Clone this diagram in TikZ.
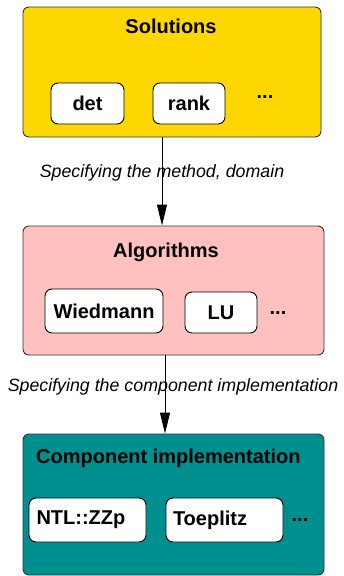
\documentclass[tikz,border=0pt]{standalone}
\usepackage{fontspec}
\setmainfont{Liberation Sans}
\usetikzlibrary{arrows.meta}
\definecolor{solcol}{HTML}{FFD700}
\definecolor{algcol}{HTML}{FFC0C0}
\definecolor{compcol}{HTML}{008F8F}
\definecolor{edgecol}{HTML}{333333}
\tikzset{
  outer/.style={draw=edgecol, line width=0.9pt, rounded corners=6pt, inner sep=0pt},
  inner/.style={draw=black, fill=white, line width=0.9pt, rounded corners=7pt, inner sep=0pt, font=\fontsize{20}{22}\selectfont\bfseries},
  ttl/.style={font=\fontsize{20}{22}\selectfont\bfseries, inner sep=0pt},
  lbl/.style={font=\fontsize{17.8}{20}\selectfont\itshape, inner sep=0pt},
  arr/.style={line width=0.9pt, -{Triangle[length=21pt,width=10pt]}},
}
\begin{document}
\begin{tikzpicture}[x=1pt,y=-1pt]
\useasboundingbox (0,0) rectangle (343,576);
% outer boxes
\node[outer, fill=solcol, minimum width=298pt, minimum height=130pt] (sol) at (172,72) {};
\node[outer, fill=algcol, minimum width=301pt, minimum height=129pt] (alg) at (173.5,290.5) {};
\node[outer, fill=compcol, minimum width=301pt, minimum height=141pt] (comp) at (173.5,504.5) {};
% titles
\node[ttl] (solt) at (171,26) {Solutions};
\node[ttl] (algt) at (166,252) {Algorithms};
\node[ttl, anchor=west] (compt) at (36,458) {Component implementation};
% inner boxes
\node[inner, minimum width=73pt, minimum height=41pt] (det) at (87.5,103.5) {det};
\node[inner, minimum width=72pt, minimum height=41pt] (rank) at (189,103.5) {rank};
\node[ttl] (sold) at (265,97) {...};
\node[inner, minimum width=118pt, minimum height=44pt] (wied) at (104,311) {Wiedmann};
\node[inner, minimum width=72pt, minimum height=41pt] (lu) at (221,312.5) {LU};
\node[ttl] (algd) at (278,313) {...};
\node[inner, minimum width=117pt, minimum height=44pt, text width=102pt, align=left] (ntl) at (87.5,520) {NTL::ZZp};
\node[inner, minimum width=117pt, minimum height=44pt, text width=103pt, align=left] (toe) at (224.5,520) {Toeplitz};
\node[ttl] (compd) at (300,520) {...};
% connectors
\coordinate (a1) at (162,0);
\coordinate (a2) at (165,0);
\draw[arr] (sol.south -| a1) -- (alg.north -| a1);
\draw[arr] (alg.south -| a2) -- (comp.north -| a2);
% labels
\node[lbl] (l1) at (162,173) {Specifying the method, domain};
\node[lbl] (l2) at (173,387) {Specifying the component implementation};
\end{tikzpicture}
\end{document}
